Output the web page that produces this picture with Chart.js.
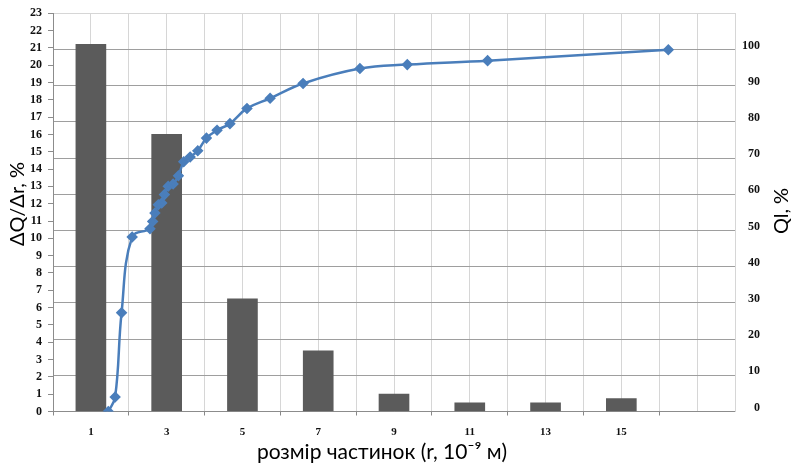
<!DOCTYPE html>
<html>
<head>
<meta charset="utf-8">
<script src="https://cdn.jsdelivr.net/npm/chart.js@4.4.1/dist/chart.umd.min.js"></script>
<style>
  html, body { margin: 0; padding: 0; background: #fff; }
</style>
</head>
<body>
<canvas id="chart" width="791" height="464"></canvas>
<script>
// bar series: size distribution (left axis)
const barR = [1, 3, 5, 7, 9, 11, 13, 15];
const barVals = [21.2, 16, 6.5, 3.5, 1, 0.5, 0.5, 0.75];

// cumulative curve (right axis)
const lineR = [1.46, 1.64, 1.81, 2.09, 2.56, 2.63, 2.69, 2.78, 2.87, 2.94, 3.04, 3.17, 3.31,
               3.45, 3.62, 3.82, 4.05, 4.33, 4.67, 5.12, 5.73, 6.60, 8.10, 9.35, 11.47, 16.24];
const lineVals = [0, 4, 27.3, 48.2, 50.5, 52.5, 54.8, 57.1, 57.6, 59.9, 62.2, 62.8, 65.1,
                  69.0, 70.3, 72.0, 75.5, 77.7, 79.5, 83.7, 86.5, 90.6, 94.7, 95.8, 96.9, 99.9];

const xTickLabels = [1, 3, 5, 7, 9, 11, 13, 15];

const xTitle = 'розмір частинок (r, 10⁻⁹ м)';
const yTitle = 'ΔQ/Δr, %';
const y1Title = 'Ql, %';

const tickFont = { family: 'Liberation Serif', weight: 'bold', size: 12 };

// draw the axis titles ourselves so they sit where excel put them
const titlesPlugin = {
  id: 'axisTitles',
  afterDraw(chart) {
    const {ctx, chartArea} = chart;
    ctx.save();
    ctx.fillStyle = '#000';
    ctx.font = '21px Lato';
    ctx.textAlign = 'center';
    ctx.textBaseline = 'middle';
    ctx.fillText(xTitle, 382, 452);
    ctx.restore();

    ctx.save();
    ctx.fillStyle = '#000';
    ctx.font = '20px Lato';
    ctx.textAlign = 'center';
    ctx.textBaseline = 'middle';
    ctx.translate(18, 204);
    ctx.rotate(-Math.PI / 2);
    ctx.fillText(yTitle, 0, 0);
    ctx.restore();

    ctx.save();
    ctx.fillStyle = '#000';
    ctx.font = '20px Lato';
    ctx.textAlign = 'center';
    ctx.textBaseline = 'middle';
    ctx.translate(chartArea.right + 47, 211);
    ctx.rotate(-Math.PI / 2);
    ctx.fillText(y1Title, 0, 0);
    ctx.restore();
  }
};

new Chart(document.getElementById('chart'), {
  data: {
    datasets: [
      {
        type: 'line',
        data: lineR.map((r, i) => ({x: r, y: lineVals[i]})),
        yAxisID: 'y1',
        borderColor: '#4a7ebb',
        backgroundColor: '#4a7ebb',
        borderWidth: 2.5,
        pointStyle: 'rectRot',
        pointRadius: 4,
        tension: 0.4,
        order: 0
      },
      {
        type: 'bar',
        data: barR.map((r, i) => ({x: r, y: barVals[i]})),
        yAxisID: 'y',
        backgroundColor: '#5b5b5b',
        barThickness: 30,
        order: 1
      }
    ]
  },
  options: {
    responsive: false,
    animation: false,
    devicePixelRatio: 1,
    layout: { padding: { top: 12, left: 0, right: 31, bottom: 0 } },
    plugins: { legend: { display: false }, tooltip: { enabled: false } },
    scales: {
      x: {
        type: 'linear',
        min: 0,
        max: 18,
        offset: false,
        afterFit: (s) => { s.height = 52.5; },
        ticks: {
          stepSize: 1,
          autoSkip: false,
          maxRotation: 0,
          padding: 10,
          color: '#111',
          font: { family: 'Liberation Serif', weight: 'bold', size: 11 },
          callback: (v) => xTickLabels.includes(v) ? String(v) : ''
        },
        grid: {
          offset: false,
          color: '#d6d6d6',
          tickLength: 4,
          tickColor: (c) => (c.tick && c.tick.value % 2 === 0 && c.tick.value <= 16) ? '#888' : 'rgba(0,0,0,0)'
        },
        border: { color: '#8c8c8c' }
      },
      y: {
        position: 'left',
        min: 0,
        max: 23,
        afterFit: (s) => { s.width = 53; },
        ticks: { stepSize: 1, autoSkip: false, padding: 6, color: '#111', font: tickFont },
        grid: { drawOnChartArea: false, tickLength: 5, tickColor: '#8c8c8c' },
        border: { color: '#8c8c8c' }
      },
      y1: {
        position: 'right',
        min: 0,
        max: 110,
        afterFit: (s) => { s.width = 25; },
        ticks: {
          stepSize: 10,
          autoSkip: false,
          padding: 4,
          crossAlign: 'far',
          labelOffset: -4,
          color: '#111',
          font: tickFont,
          callback: (v) => v > 100 ? '' : String(v)
        },
        grid: { color: (c) => (c.tick && c.tick.value > 100) ? '#d6d6d6' : '#9e9e9e', drawTicks: false },
        border: { color: '#d6d6d6' }
      }
    }
  },
  plugins: [titlesPlugin]
});
</script>
</body>
</html>
